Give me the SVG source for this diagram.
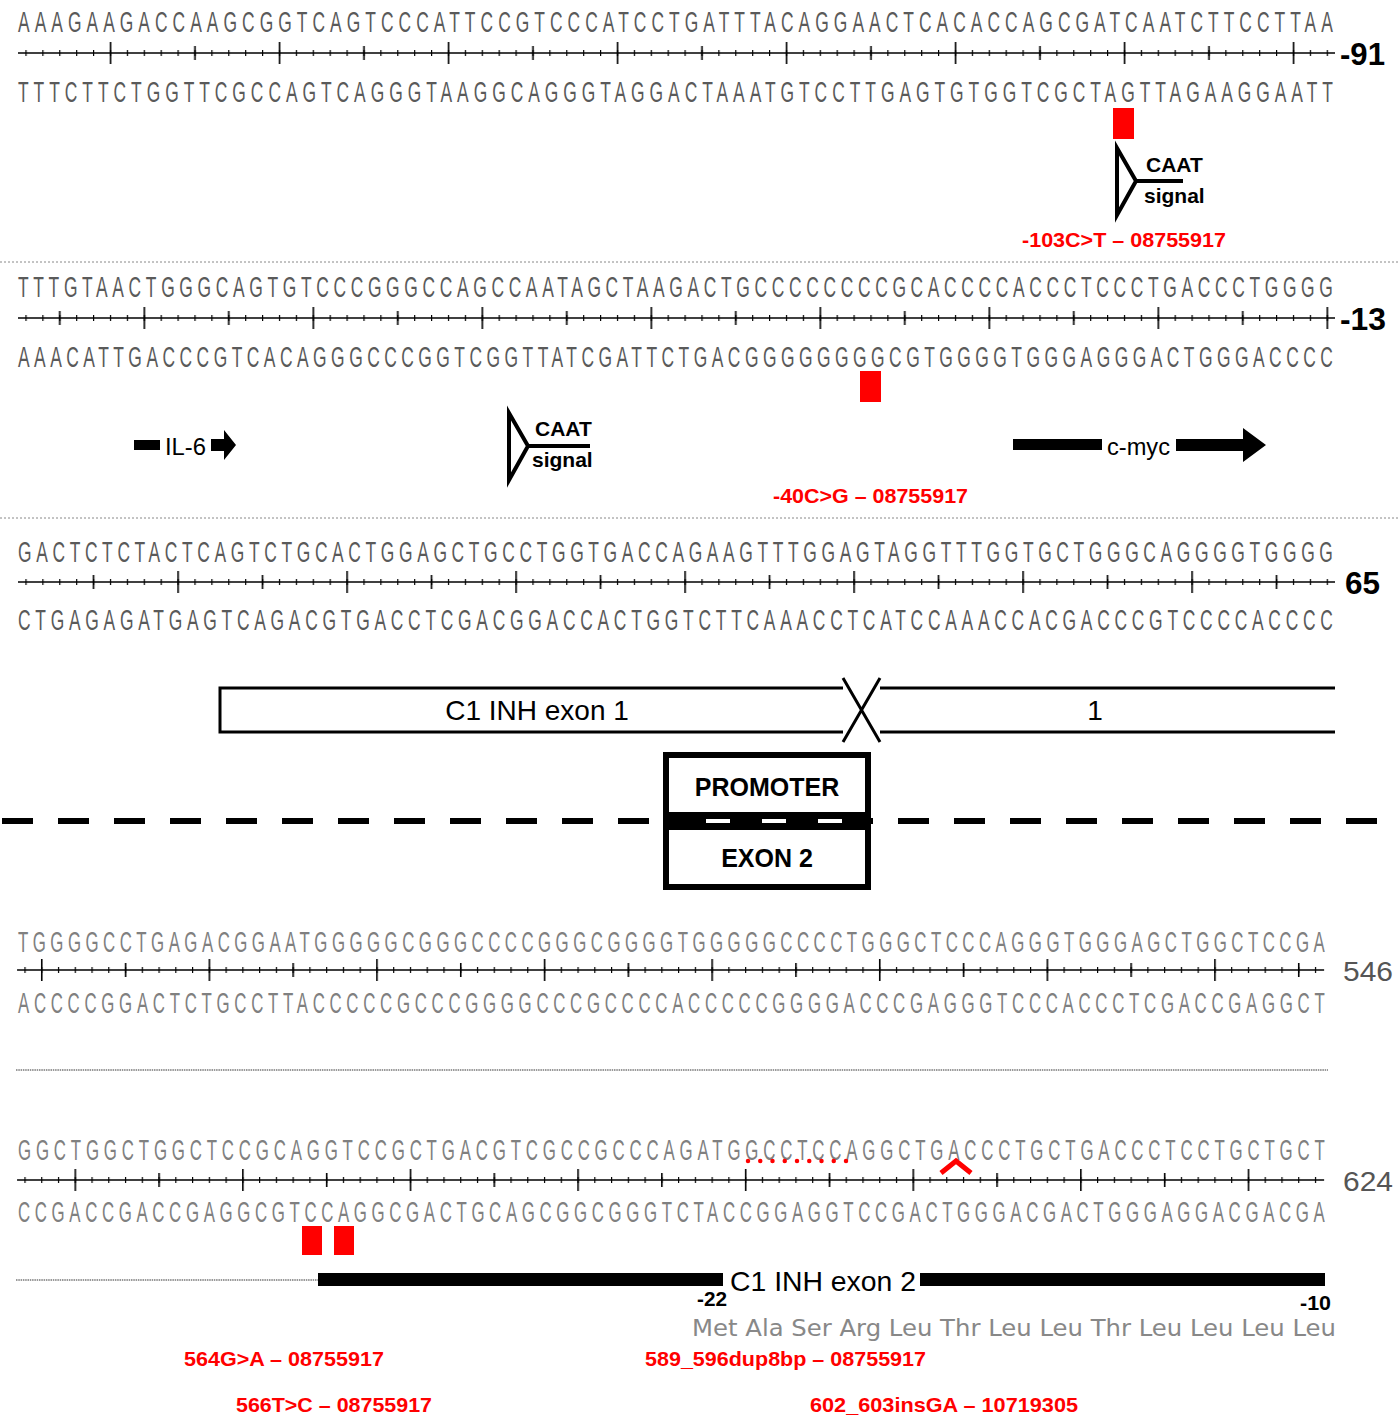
<svg xmlns="http://www.w3.org/2000/svg" width="1399" height="1415" viewBox="0 0 1399 1415">
<style>
.seq{font-family:"Liberation Sans",Arial,sans-serif;font-size:30px;fill:#5a5a5a}
.seqb{font-family:"Liberation Sans",Arial,sans-serif;font-size:29px;fill:#808080}
.num{font-family:"Liberation Sans",Arial,sans-serif;font-weight:bold;font-size:32px;fill:#000}
.numg{font-family:"Liberation Sans",Arial,sans-serif;font-size:28px;fill:#555}
.lbl{font-family:"Liberation Sans",Arial,sans-serif;font-weight:bold;font-size:21px;fill:#000}
.mut{font-family:"Liberation Sans",Arial,sans-serif;font-weight:bold;font-size:21px;fill:#ff0000}
.ex{font-family:"Liberation Sans",Arial,sans-serif;font-size:28px;fill:#000}
.box{font-family:"Liberation Sans",Arial,sans-serif;font-weight:bold;font-size:25px;fill:#000}
.rl{stroke:#000;stroke-width:1.6}
.sep{stroke:#888;stroke-width:1;stroke-dasharray:2 2}
.caat{fill:none;stroke:#000;stroke-width:4}
</style>
<defs>
<pattern id="pS" width="16.9" height="30" x="-0.6" y="-15" patternUnits="userSpaceOnUse"><rect x="0" y="12" width="1.2" height="6" fill="#000"/></pattern>
<pattern id="pL" width="169" height="30" x="-0.8" y="-15" patternUnits="userSpaceOnUse"><rect x="0" y="4" width="1.6" height="22" fill="#000"/><rect x="84.5" y="8" width="1.6" height="14" fill="#000"/></pattern>
</defs>

<g id="row1">
<text class="seq" transform="translate(18,32) scale(0.58,1)" textLength="2267" lengthAdjust="spacing">AAAGAAGACCAAGCGGTCAGTCCCATTCCGTCCCATCCTGATTTACAGGAACTCACACCAGCGATCAATCTTCCTTAA</text>
<g transform="translate(26,53)">
<line class="rl" x1="-8" y1="0" x2="1309" y2="0"/>
<rect x="-8.45" y="-12" width="1318.2" height="24" fill="url(#pS)"/>
<g transform="translate(84.5,0)"><rect x="-76.05" y="-15" width="1301.3" height="30" fill="url(#pL)"/></g>
</g>
<text class="num" x="1340" y="65" textLength="45" lengthAdjust="spacingAndGlyphs">-91</text>
<text class="seq" transform="translate(18,102) scale(0.58,1)" textLength="2267" lengthAdjust="spacing">TTTCTTCTGGTTCGCCAGTCAGGGTAAGGCAGGGTAGGACTAAATGTCCTTGAGTGTGGTCGCTAGTTAGAAGGAATT</text>
</g>

<g id="mut1">
<rect x="1113" y="108" width="21" height="31" fill="#ff0000"/>
<text class="mut" x="1022" y="247" textLength="204" lengthAdjust="spacingAndGlyphs">-103C&gt;T – 08755917</text>
</g>
<g id="caat1">
<path class="caat" d="M1117,148 L1136,181 L1117,215 Z M1136,181 H1183"/>
<text class="lbl" x="1146" y="172">CAAT</text>
<text class="lbl" x="1144" y="203">signal</text>
</g>
<line class="sep" x1="0" y1="262" x2="1399" y2="262"/>

<g id="row2">
<text class="seq" transform="translate(18,297) scale(0.58,1)" textLength="2267" lengthAdjust="spacing">TTTGTAACTGGGCAGTGTCCCGGGCCAGCCAATAGCTAAGACTGCCCCCCCCGCACCCCACCCTCCCTGACCCTGGGG</text>
<g transform="translate(26,318)">
<line class="rl" x1="-8" y1="0" x2="1309" y2="0"/>
<rect x="-8.45" y="-12" width="1318.2" height="24" fill="url(#pS)"/>
<g transform="translate(118.3,0)"><rect x="-109.85" y="-15" width="1301.3" height="30" fill="url(#pL)"/></g>
</g>
<text class="num" x="1340" y="330" textLength="46" lengthAdjust="spacingAndGlyphs">-13</text>
<text class="seq" transform="translate(18,367) scale(0.58,1)" textLength="2267" lengthAdjust="spacing">AAACATTGACCCGTCACAGGGCCCGGTCGGTTATCGATTCTGACGGGGGGGGCGTGGGGTGGGAGGGACTGGGACCCC</text>
</g>

<g id="mut2">
<rect x="860" y="371" width="21" height="31" fill="#ff0000"/>
<text class="mut" x="773" y="503" textLength="195" lengthAdjust="spacingAndGlyphs">-40C&gt;G – 08755917</text>
</g>
<g id="il6">
<rect x="134" y="440" width="26" height="10" fill="#000"/>
<text x="165" y="455" font-family="Liberation Sans, Arial, sans-serif" font-size="24" textLength="41" lengthAdjust="spacingAndGlyphs">IL-6</text>
<path d="M211,439 H224 V430 L236,445 L224,460 V451 H211 Z" fill="#000"/>
</g>
<g id="caat2">
<path class="caat" d="M509,413 L528,446 L509,480 Z M528,446 H590"/>
<text class="lbl" x="535" y="436">CAAT</text>
<text class="lbl" x="532" y="467">signal</text>
</g>
<g id="cmyc">
<rect x="1013" y="439" width="89" height="11" fill="#000"/>
<text x="1107" y="455" font-family="Liberation Sans, Arial, sans-serif" font-size="24" textLength="63" lengthAdjust="spacingAndGlyphs">c-myc</text>
<path d="M1176,439 H1243 V428 L1266,445 L1243,462 V451 H1176 Z" fill="#000"/>
</g>
<line class="sep" x1="0" y1="518" x2="1399" y2="518"/>

<g id="row3">
<text class="seq" transform="translate(18,562) scale(0.58,1)" textLength="2267" lengthAdjust="spacing">GACTCTCTACTCAGTCTGCACTGGAGCTGCCTGGTGACCAGAAGTTTGGAGTAGGTTTGGTGCTGGGCAGGGGTGGGG</text>
<g transform="translate(26,582)">
<line class="rl" x1="-8" y1="0" x2="1309" y2="0"/>
<rect x="-8.45" y="-12" width="1318.2" height="24" fill="url(#pS)"/>
<g transform="translate(152.1,0)"><rect x="-143.65" y="-15" width="1301.3" height="30" fill="url(#pL)"/></g>
</g>
<text class="num" x="1345" y="594" textLength="35" lengthAdjust="spacingAndGlyphs">65</text>
<text class="seq" transform="translate(18,630) scale(0.58,1)" textLength="2267" lengthAdjust="spacing">CTGAGAGATGAGTCAGACGTGACCTCGACGGACCACTGGTCTTCAAACCTCATCCAAACCACGACCCGTCCCCACCCC</text>
</g>

<g id="exon1">
<path d="M843,688 H220 V732 H843" fill="none" stroke="#000" stroke-width="3"/>
<path d="M1335,688 H880 M1335,732 H880" fill="none" stroke="#000" stroke-width="3"/>
<path d="M843,678 L880,742 M880,678 L843,742" fill="none" stroke="#000" stroke-width="3"/>
<text class="ex" x="537" y="720" text-anchor="middle">C1 INH exon 1</text>
<text class="ex" x="1095" y="720" text-anchor="middle">1</text>
</g>

<g id="divider">
<line x1="2" y1="821" x2="1380" y2="821" stroke="#000" stroke-width="6" stroke-dasharray="31 25"/>
</g>
<g id="promoter">
<rect x="666" y="755" width="202" height="60" fill="#fff" stroke="#000" stroke-width="6"/>
<text class="box" x="767" y="796" text-anchor="middle">PROMOTER</text>
</g>
<g id="exon2box">
<rect x="666" y="827" width="202" height="60" fill="#fff" stroke="#000" stroke-width="6"/>
<text class="box" x="767" y="867" text-anchor="middle">EXON 2</text>
</g>
<g id="boxjoin">
<rect x="663" y="813" width="208" height="16" fill="#000"/>
<line x1="680" y1="821" x2="860" y2="821" stroke="#fff" stroke-width="4" stroke-dasharray="24 32" stroke-dashoffset="-26"/>
</g>

<g id="row4">
<text class="seqb" transform="translate(18,952) scale(0.58,1)" textLength="2253" lengthAdjust="spacing">TGGGGCCTGAGACGGAATGGGGGCGGGCCCCGGGCGGGGTGGGGGCCCCTGGGCTCCCAGGGTGGGAGCTGGCTCCGA</text>
<g transform="translate(25,970) scale(0.9917,1)">
<line class="rl" x1="-8" y1="0" x2="1310" y2="0" stroke="#333"/>
<rect x="-8.45" y="-12" width="1318.2" height="24" fill="url(#pS)"/>
<g transform="translate(16.9,0)"><rect x="-8.45" y="-15" width="1301.3" height="30" fill="url(#pL)"/></g>
</g>
<text class="numg" x="1343" y="981" textLength="50" lengthAdjust="spacingAndGlyphs">546</text>
<text class="seqb" transform="translate(18,1013) scale(0.58,1)" textLength="2253" lengthAdjust="spacing">ACCCCGGACTCTGCCTTACCCCCGCCCGGGGCCCGCCCCACCCCCGGGGACCCGAGGGTCCCACCCTCGACCGAGGCT</text>
</g>
<line x1="16" y1="1070" x2="1328" y2="1070" stroke="#999" stroke-width="2" stroke-dasharray="1.5 0.8"/>

<g id="row5">
<text class="seqb" transform="translate(18,1160) scale(0.58,1)" textLength="2253" lengthAdjust="spacing">GGCTGGCTGGCTCCGCAGGTCCGCTGACGTCGCCGCCCAGATGGCCTCCAGGCTGACCCTGCTGACCCTCCTGCTGCT</text>
<g transform="translate(25,1180) scale(0.9917,1)">
<line class="rl" x1="-8" y1="0" x2="1310" y2="0" stroke="#333"/>
<rect x="-8.45" y="-12" width="1318.2" height="24" fill="url(#pS)"/>
<g transform="translate(50.7,0)"><rect x="-42.25" y="-15" width="1301.3" height="30" fill="url(#pL)"/></g>
</g>
<text class="numg" x="1343" y="1191" textLength="50" lengthAdjust="spacingAndGlyphs">624</text>
<text class="seqb" transform="translate(18,1222) scale(0.58,1)" textLength="2253" lengthAdjust="spacing">CCGACCGACCGAGGCGTCCAGGCGACTGCAGCGGCGGGTCTACCGGAGGTCCGACTGGGACGACTGGGAGGACGACGA</text>
</g>

<g id="marks5">
<rect x="302" y="1226" width="20" height="29" fill="#ff0000"/>
<rect x="334" y="1226" width="20" height="29" fill="#ff0000"/>
<line x1="748" y1="1161" x2="848" y2="1161" stroke="#ff0000" stroke-width="4.5" stroke-linecap="round" stroke-dasharray="0 12.25"/>
<path d="M941,1173 L956,1161 L971,1173" fill="none" stroke="#ff0000" stroke-width="5"/>
</g>

<g id="exon2">
<line x1="16" y1="1280" x2="318" y2="1280" stroke="#999" stroke-width="2" stroke-dasharray="1.5 0.8"/>
<rect x="318" y="1273" width="405" height="13" fill="#000"/>
<text class="ex" x="730" y="1291" textLength="186" lengthAdjust="spacingAndGlyphs">C1 INH exon 2</text>
<rect x="920" y="1273" width="405" height="13" fill="#000"/>
<text x="697" y="1306" font-family="Liberation Sans, Arial, sans-serif" font-weight="bold" font-size="20" textLength="30" lengthAdjust="spacingAndGlyphs">-22</text>
<text x="1300" y="1310" font-family="Liberation Sans, Arial, sans-serif" font-weight="bold" font-size="20" textLength="31" lengthAdjust="spacingAndGlyphs">-10</text>
<text x="692" y="1336" font-family="DejaVu Sans, sans-serif" font-size="23" fill="#888" textLength="644" lengthAdjust="spacingAndGlyphs">Met Ala Ser Arg Leu Thr Leu Leu Thr Leu Leu Leu Leu</text>
</g>

<g id="mutlabels">
<text class="mut" x="184" y="1366" textLength="200" lengthAdjust="spacingAndGlyphs">564G&gt;A – 08755917</text>
<text class="mut" x="645" y="1366" textLength="281" lengthAdjust="spacingAndGlyphs">589_596dup8bp – 08755917</text>
<text class="mut" x="236" y="1412" textLength="196" lengthAdjust="spacingAndGlyphs">566T&gt;C – 08755917</text>
<text class="mut" x="810" y="1412" textLength="268" lengthAdjust="spacingAndGlyphs">602_603insGA – 10719305</text>
</g>
</svg>
